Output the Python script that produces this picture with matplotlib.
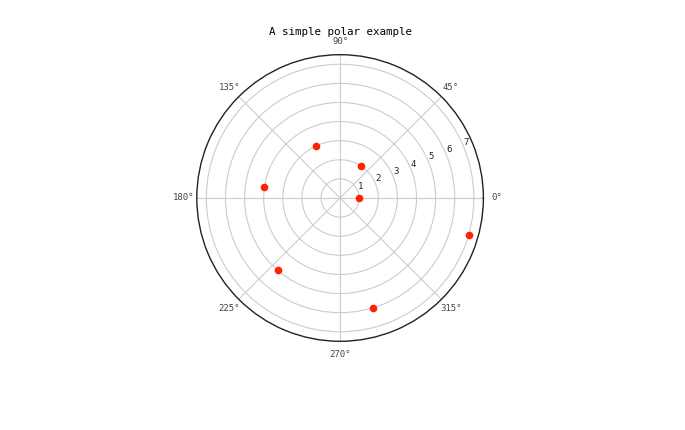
import matplotlib
matplotlib.use('Agg')
import matplotlib.pyplot as plt
import numpy as np

# data (angle in radians, radius)
theta = [0, 1, 2, 3, 4, 5, 6]
r = [1, 2, 3, 4, 5, 6, 7]
r_ticks = [1, 2, 3, 4, 5, 6, 7]
r_max = 7.5

plt.rcParams['font.family'] = ['DejaVu Sans Mono']

fig = plt.figure(figsize=(6.85, 4.3), dpi=100)
ax = fig.add_axes([0.2873, 0.2063, 0.4184, 0.6665], projection='polar')

ax.plot(theta, r, 'o', color='#ff2200', markersize=5.5, markeredgewidth=0)

ax.set_rmax(r_max)
ax.set_rticks(r_ticks)
ax.set_rlabel_position(22.5)
ax.grid(True, color='#cccccc', linewidth=0.8)
ax.spines['polar'].set_color('#222222')
ax.spines['polar'].set_linewidth(1.0)
ax.tick_params(axis='x', labelsize=6.5, colors='#444444', pad=-1)
ax.tick_params(axis='y', labelsize=6.5, colors='#222222')

# title sits low, touching the 90 degree label like in the original
ax.set_title('A simple polar example', fontsize=7.8, y=1.068, pad=0)

fig.savefig('out.png', dpi=100)
